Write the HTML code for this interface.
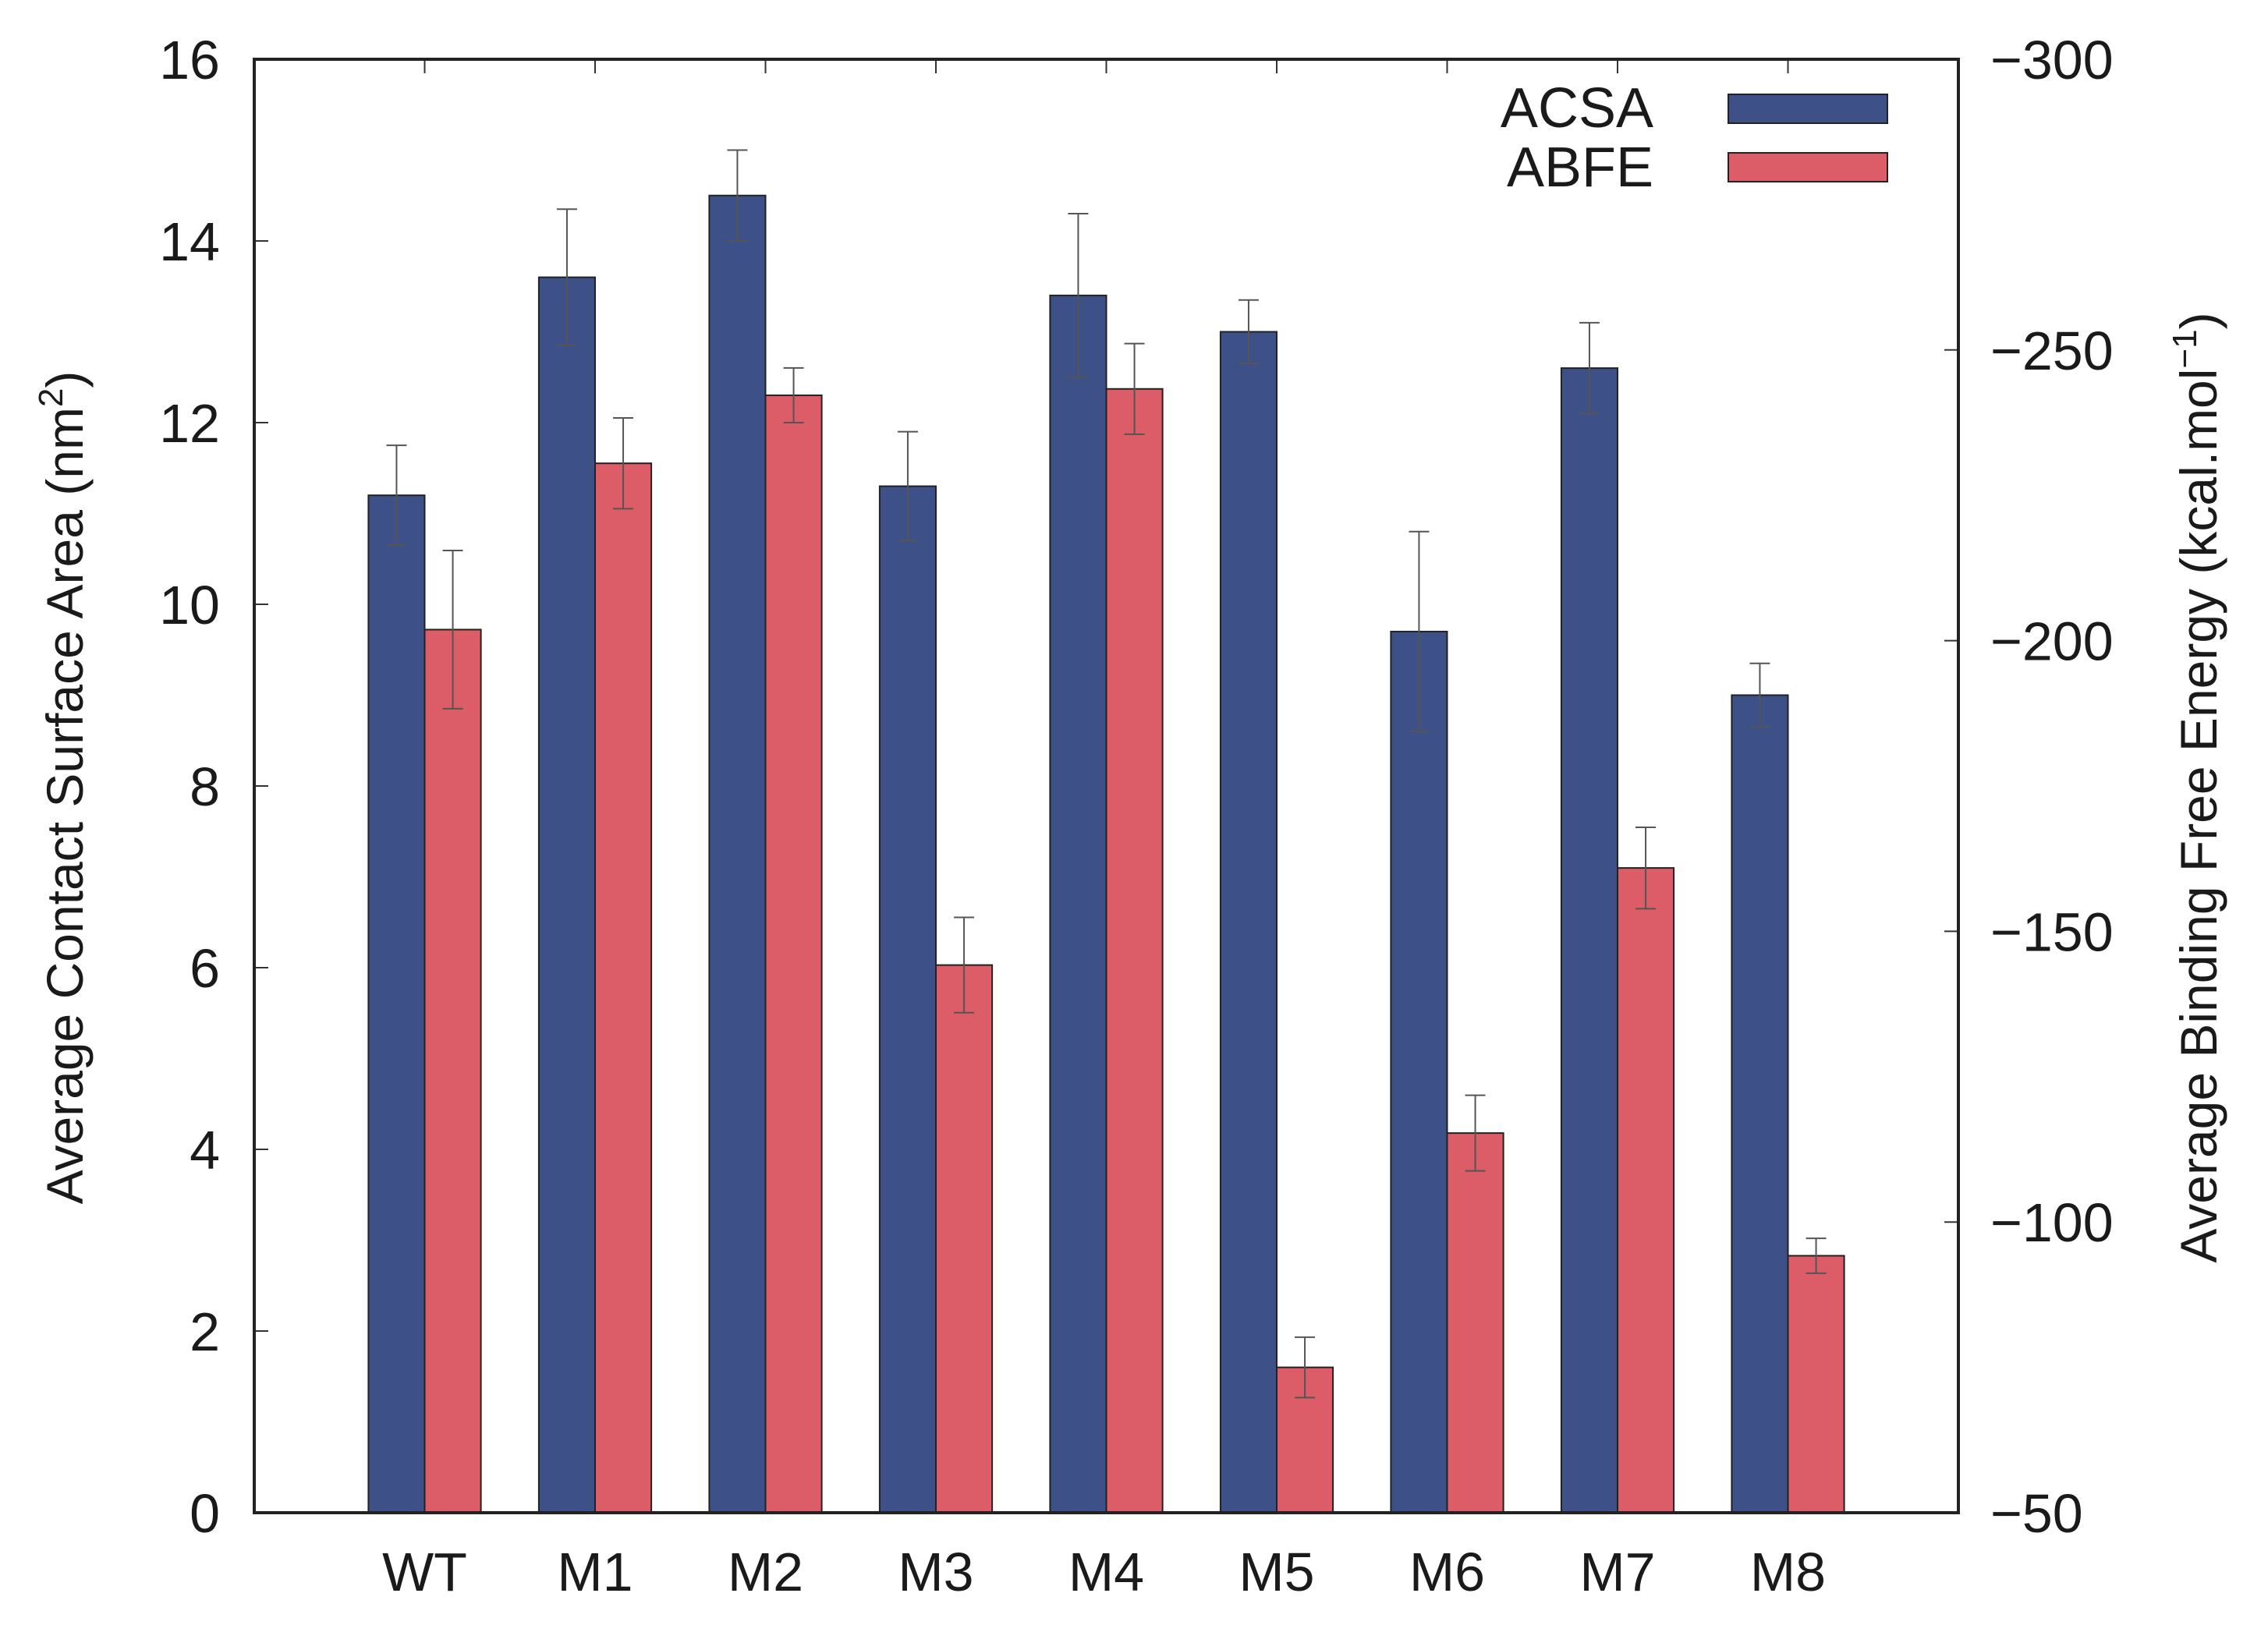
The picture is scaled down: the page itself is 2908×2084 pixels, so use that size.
<!DOCTYPE html>
<html><head><meta charset="utf-8"><style>
html,body{margin:0;padding:0;background:#fff;}
svg{display:block;}
text{font-family:"Liberation Sans",sans-serif;fill:#1a1a1a;}
</style></head><body>
<svg id="chart" width="2908" height="2084" viewBox="0 0 2908 2084">
<rect x="326" y="76" width="2185" height="1864" fill="#fff" stroke="none"/>
<g id="bars"></g>
<g id="axes"></g>
<text x="106" y="1010" font-size="66" text-anchor="middle" transform="rotate(-90 106 1010)">Average Contact Surface Area (nm<tspan dy="-26" font-size="44">2</tspan><tspan dy="26">)</tspan></text>
<text x="2842" y="1010" font-size="66" text-anchor="middle" transform="rotate(-90 2842 1010)">Average Binding Free Energy (kcal.mol<tspan dy="-26" font-size="44">−1</tspan><tspan dy="26">)</tspan></text>
<g>
<text x="2120" y="163" font-size="72" text-anchor="end">ACSA</text>
<rect x="2216" y="121" width="204" height="37" fill="#3d5087" stroke="#222" stroke-width="2"/>
<text x="2120" y="239" font-size="72" text-anchor="end">ABFE</text>
<rect x="2216" y="196" width="204" height="37" fill="#dc5c67" stroke="#222" stroke-width="2"/>
</g>
</svg>
<script>
const categories = ["WT","M1","M2","M3","M4","M5","M6","M7","M8"];
const acsa = [11.2,13.6,14.5,11.3,13.4,13.0,9.7,12.6,9.0];
const acsaErr = [0.55,0.75,0.5,0.6,0.9,0.35,1.1,0.5,0.35];
const abfe = [-201.9,-230.5,-242.2,-144.2,-243.3,-75.0,-115.3,-160.9,-94.2];
const abfeErr = [13.6,7.8,4.7,8.2,7.8,5.2,6.5,7.0,3.0];
const leftTicks = [0,2,4,6,8,10,12,14,16];
const rightTicks = [-300,-250,-200,-150,-100,-50];

const NS = "http://www.w3.org/2000/svg";
const L = 326, R = 2511, T = 76, B = 1940;
const yL = v => B - (v - 0) / 16 * (B - T);
const yR = v => B - (v - (-50)) / (-250) * (B - T);
const xC = i => L + (i + 1) / 10 * (R - L);
const bw = 0.33 / 10 * (R - L);
function mk(tag, attrs, parent) {
  const e = document.createElementNS(NS, tag);
  for (const k in attrs) e.setAttribute(k, attrs[k]);
  parent.appendChild(e);
  return e;
}
const gb = document.getElementById('bars');
const ga = document.getElementById('axes');
categories.forEach((c, i) => {
  const cx = xC(i);
  let y = yL(acsa[i]);
  let r = mk('rect', {x: cx - bw, y: y, width: bw, height: B - y, fill: '#3d5087', stroke: '#222', 'stroke-width': 2}, gb);
  
  
  let y2 = yR(abfe[i]);
  let r2 = mk('rect', {x: cx, y: y2, width: bw, height: B - y2, fill: '#dc5c67', stroke: '#222', 'stroke-width': 2}, gb);
  
  
  const eb = (x, y1, y2, name) => {
    const g = mk('g', {stroke: '#555', 'stroke-width': 2}, gb);
    
    
    mk('line', {x1: x, x2: x, y1: y1, y2: y2}, g);
    mk('line', {x1: x - 13, x2: x + 13, y1: y1, y2: y1}, g);
    mk('line', {x1: x - 13, x2: x + 13, y1: y2, y2: y2}, g);
  };
  eb(cx - bw / 2, yL(acsa[i] + acsaErr[i]), yL(acsa[i] - acsaErr[i]), 'error-bar-acsa-' + c.toLowerCase());
  eb(cx + bw / 2, yR(abfe[i] - abfeErr[i]), yR(abfe[i] + abfeErr[i]), 'error-bar-abfe-' + c.toLowerCase());
  const tl = mk('line', {x1: cx, x2: cx, y1: T, y2: T + 18, stroke: '#333', 'stroke-width': 2}, ga);
  
  
  const t = mk('text', {x: cx, y: 2040, 'font-size': 70, 'text-anchor': 'middle'}, ga);
  t.textContent = c;
  
  
});
leftTicks.forEach(v => {
  const y = yL(v);
  const l = mk('line', {x1: L, x2: L + 18, y1: y, y2: y, stroke: '#333', 'stroke-width': 2}, ga);
  
  
  const t = mk('text', {x: 282, y: y + 25, 'font-size': 70, 'text-anchor': 'end'}, ga);
  t.textContent = v;
  
  
});
rightTicks.forEach(v => {
  const y = yR(v);
  const l = mk('line', {x1: R - 18, x2: R, y1: y, y2: y, stroke: '#333', 'stroke-width': 2}, ga);
  
  
  const t = mk('text', {x: 2552, y: y + 25, 'font-size': 70, 'text-anchor': 'start'}, ga);
  t.textContent = '\u2212' + Math.abs(v);
  
  
});
const frame = mk('rect', {x: L, y: T, width: R - L, height: B - T, fill: 'none', stroke: '#222', 'stroke-width': 4}, ga);


</script>
</body></html>
